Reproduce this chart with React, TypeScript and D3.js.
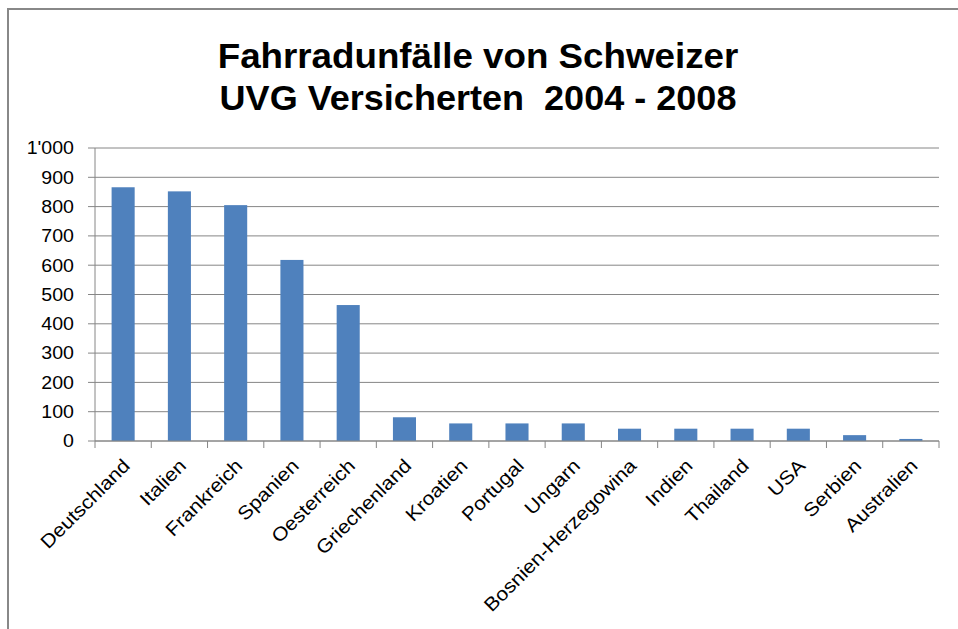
import React from 'react';
import * as d3 from 'd3';

const countries = [
  'Deutschland', 'Italien', 'Frankreich', 'Spanien', 'Oesterreich',
  'Griechenland', 'Kroatien', 'Portugal', 'Ungarn', 'Bosnien-Herzegowina',
  'Indien', 'Thailand', 'USA', 'Serbien', 'Australien',
];
const accidents = [866, 852, 805, 618, 464, 81, 60, 60, 60, 42, 42, 42, 42, 20, 7];
const yTicks = [0, 100, 200, 300, 400, 500, 600, 700, 800, 900, 1000];
const titleLines = ['Fahrradunfälle von Schweizer', 'UVG Versicherten  2004 - 2008'];

const W = 958;
const H = 629;
const left = 95;
const right = 939;
const top = 148;
const bottom = 441;
const grey = '#868686';
const font = 'Arial, "Liberation Sans", sans-serif';

const fmt = (v: number) => (v >= 1000 ? d3.format(',')(v).replace(',', "'") : String(v));

export default function App() {
  const x = d3.scaleBand<string>()
    .domain(countries)
    .range([left, right])
    .paddingInner(0.59)
    .paddingOuter(0.295);
  const y = d3.scaleLinear().domain([0, 1000]).range([bottom, top]);
  const step = x.step();
  const bounds = d3.range(countries.length + 1).map((i) => left + i * step);

  return (
    <svg width={W} height={H} style={{ position: 'absolute', left: 0, top: 0, background: '#fff' }}
      fontFamily={font}>
      <rect x={0} y={0} width={W} height={H} fill="#fff" />
      {/* chart border */}
      <line x1={8} x2={8} y1={8} y2={H} stroke="#888" strokeWidth={2} />
      <line x1={7} x2={W} y1={9} y2={9} stroke="#888" strokeWidth={2} />

      {/* title */}
      {titleLines.map((t, i) => (
        <text key={t} transform={`translate(478,${68 + i * 42}) scale(${i === 0 ? 1.05 : 1.03},1)`}
          textAnchor="middle" fontSize={35} fontWeight="bold" fill="#000"
          style={{ whiteSpace: 'pre' }}>
          {t}
        </text>
      ))}

      {/* gridlines and y axis */}
      {yTicks.map((v) => (
        <g key={v}>
          <line x1={left - 7} x2={right} y1={y(v)} y2={y(v)} stroke={grey} strokeWidth={1} />
          <text transform={`translate(74,${y(v)}) scale(1.12,1)`} textAnchor="end"
            dy="0.36em" fontSize={17.5} fill="#000">
            {fmt(v)}
          </text>
        </g>
      ))}
      <line x1={left} x2={left} y1={top} y2={bottom} stroke={grey} strokeWidth={1} />

      {/* bars */}
      {countries.map((c, i) => (
        <rect key={c} x={x(c)} y={y(accidents[i])} width={x.bandwidth()}
          height={bottom - y(accidents[i])} fill="#4F81BD" />
      ))}

      {/* x axis */}
      <line x1={left} x2={right} y1={bottom} y2={bottom} stroke={grey} strokeWidth={1} />
      {bounds.map((b, i) => (
        <line key={i} x1={b} x2={b} y1={bottom} y2={bottom + 7} stroke={grey} strokeWidth={1} />
      ))}
      {countries.map((c) => {
        const cx = (x(c) ?? 0) + x.bandwidth() / 2;
        return (
          <text key={c} transform={`translate(${cx + 8},467) rotate(-45) scale(1.11,1)`}
            textAnchor="end" fontSize={19} fill="#000">
            {c}
          </text>
        );
      })}
    </svg>
  );
}
